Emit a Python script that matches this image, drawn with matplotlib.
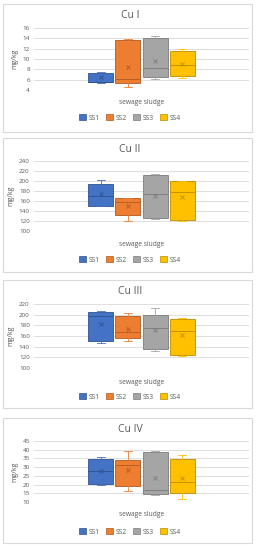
import matplotlib
matplotlib.use('Agg')
import matplotlib.pyplot as plt
from matplotlib.patches import Rectangle, Patch

titles = ['Cu I', 'Cu II', 'Cu III', 'Cu IV']
series = ['SS1', 'SS2', 'SS3', 'SS4']
colors = ['#4472C4', '#ED7D31', '#A5A5A5', '#FFC000']
edges = ['#2F528F', '#AE5A21', '#7B7B7B', '#BC8C00']

# per panel, per series: [whislo, q1, med, q3, whishi, mean]
cu1 = [[5.4, 5.5, 5.6, 7.2, 7.4, 6.6],
       [4.6, 5.4, 6.2, 13.6, 13.8, 8.4],
       [6.1, 6.6, 8.3, 14.1, 14.4, 9.6],
       [6.4, 6.8, 8.8, 11.5, 12.0, 9.1]]
cu2 = [[149.6, 150.5, 170.5, 193.0, 201.0, 173.0],
       [120.0, 131.5, 158.0, 165.0, 165.0, 149.6],
       [124.8, 126.0, 173.0, 211.9, 215.0, 169.0],
       [120.0, 122.0, 178.0, 200.0, 200.0, 167.0]]
cu3 = [[146.8, 150.0, 197.6, 205.0, 206.0, 183.0],
       [150.0, 156.0, 166.6, 197.6, 202.6, 174.0],
       [131.0, 136.0, 174.6, 199.5, 212.0, 170.8],
       [121.7, 125.0, 168.5, 191.6, 193.0, 161.0]]
cu4 = [[20.0, 20.5, 27.6, 34.9, 35.8, 27.8],
       [16.1, 19.2, 31.0, 34.3, 39.3, 28.6],
       [14.2, 14.8, 16.9, 38.7, 39.5, 23.8],
       [11.9, 15.2, 21.5, 34.5, 37.2, 24.0]]
panels = [cu1, cu2, cu3, cu4]
ylims = [(4, 16, 2), (100, 240, 20), (100, 220, 20), (10, 45, 5)]

# pixel layout: border top/bottom, plot top/bottom, title y, xlabel y, legend y
layout = [(4, 132, 28, 90, 15, 103, 118),
          (138, 272, 161, 231, 150, 244, 260),
          (280, 408, 304, 368, 292, 382, 397),
          (418, 543, 441, 502, 429, 515, 532)]

W, H = 259, 550
fig = plt.figure(figsize=(W / 100, H / 100), dpi=100)
fig.patch.set_facecolor('white')
plt.rcParams['font.family'] = ['Open Sans', 'DejaVu Sans']

txt = '#595959'
for p in range(4):
    bt, bb, pt, pb, ty, xy, ly = layout[p]
    fig.patches.append(Rectangle((3 / W, 1 - bb / H), 249 / W, (bb - bt) / H,
                                 transform=fig.transFigure, fill=False,
                                 edgecolor='#D9D9D9', linewidth=0.8))
    ax = fig.add_axes([34 / W, 1 - pb / H, 215 / W, (pb - pt) / H])
    lo, hi, step = ylims[p]
    stats = []
    for s in panels[p]:
        stats.append(dict(whislo=s[0], q1=s[1], med=s[2], q3=s[3], whishi=s[4], mean=s[5]))
    for i, st in enumerate(stats):
        pos = 0.5 + (i - 1.5) * 0.126
        ax.bxp([st], positions=[pos], widths=0.116, patch_artist=True,
               showmeans=True, showfliers=False, capwidths=0.04,
               boxprops=dict(facecolor=colors[i], edgecolor=edges[i], linewidth=0.6),
               medianprops=dict(color=edges[i], linewidth=0.6),
               whiskerprops=dict(color=colors[i], linewidth=0.6),
               capprops=dict(color=colors[i], linewidth=0.6),
               meanprops=dict(marker='x', markeredgecolor=edges[i], markersize=3.5,
                              markeredgewidth=0.6))
    ax.set_xlim(0, 1)
    ax.set_ylim(lo, hi)
    ax.set_yticks(range(lo, hi + 1, step))
    ax.set_xticks([])
    ax.grid(axis='y', color='#D9D9D9', linewidth=0.6)
    ax.set_axisbelow(True)
    for sp in ax.spines.values():
        sp.set_visible(False)
    ax.tick_params(axis='y', length=0, labelsize=4.5, labelcolor=txt, pad=3)
    ax.set_ylabel('mg/kg', fontsize=5, color=txt, labelpad=3)
    fig.text(130 / W, 1 - ty / H, titles[p], ha='center', va='center',
             fontsize=7.5, color=txt)
    fig.text(142 / W, 1 - xy / H, 'sewage sludge', ha='center', va='center',
             fontsize=4.8, color=txt)
    handles = [Patch(facecolor=colors[i], edgecolor=edges[i], linewidth=0.5) for i in range(4)]
    fig.legend(handles, series, loc='center', bbox_to_anchor=(130 / W, 1 - ly / H),
               ncol=4, frameon=False, fontsize=4.8, handlelength=1.0, handleheight=1.0,
               handletextpad=0.4, columnspacing=1.0, labelcolor=txt)

fig.savefig('out.png', dpi=100)
